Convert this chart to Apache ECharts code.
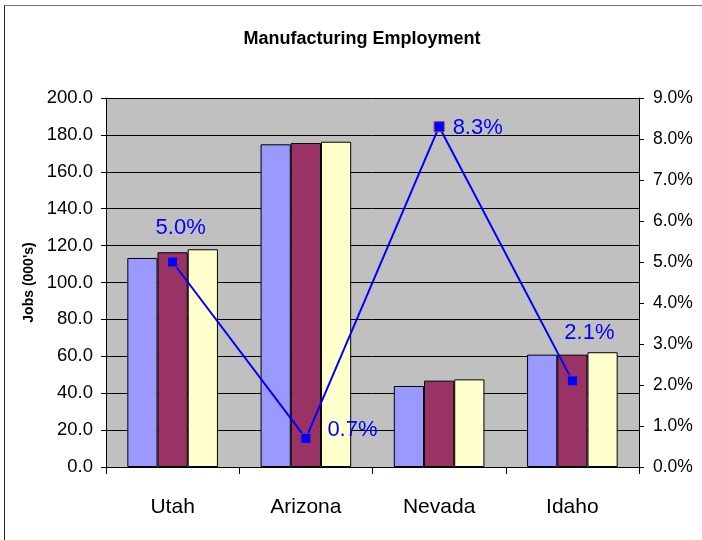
<!DOCTYPE html>
<html>
<head>
<meta charset="utf-8">
<script src="https://cdn.jsdelivr.net/npm/echarts@6/dist/echarts.min.js"></script>
<style>
  html, body { margin: 0; padding: 0; background: #fff; }
  #wrap { position: relative; width: 702px; height: 540px; }
  #chart { position: absolute; left: 0; top: 0; width: 702px; height: 540px; }
  #frame { position: absolute; left: 4px; top: 5px; right: 0; bottom: 0;
           border-left: 1px solid #222; border-top: 1px solid #777; pointer-events: none; }
</style>
</head>
<body>
<div id="wrap">
  <div id="chart"></div>
  <div id="frame"></div>
</div>
<script>
// Manufacturing jobs (thousands) by state, three periods, plus growth rate
const states = ['Utah', 'Arizona', 'Nevada', 'Idaho'];
const jobsA = [113.3, 174.9, 43.9, 60.9];
const jobsB = [116.4, 175.6, 46.8, 60.9];
const jobsC = [118.0, 176.3, 47.5, 62.2];
const growthPct = [5.0, 0.7, 8.3, 2.1];

// per-point label placement for the growth line
const growthLabelPos = [
  { position: 'top', offset: [8, -13] },
  { position: 'right', offset: [11, -8] },
  { position: 'right', offset: [3, 1] },
  { position: 'top', offset: [17, -26] }
];

const chart = echarts.init(document.getElementById('chart'));
const font = 'Liberation Sans, Arial, sans-serif';

function barSeries(data, color) {
  return {
    type: 'bar',
    data: data,
    yAxisIndex: 0,
    barGap: '0%',
    barCategoryGap: '32%',
    itemStyle: { color: color, borderColor: '#000', borderWidth: 1 },
    z: 2
  };
}

chart.setOption({
  animation: false,
  textStyle: { fontFamily: font },
  title: {
    text: 'Manufacturing Employment',
    left: 357, top: 25, textAlign: 'center',
    textStyle: { fontFamily: font, fontSize: 18, fontWeight: 'bold', color: '#000' }
  },
  grid: { left: 106, right: 63, top: 98, bottom: 73, show: true, backgroundColor: '#C0C0C0', borderWidth: 0 },
  xAxis: {
    type: 'category',
    data: states,
    axisLine: { lineStyle: { color: '#000', width: 1 } },
    axisTick: { show: true, length: 7, lineStyle: { color: '#000' } },
    axisLabel: { fontFamily: font, fontSize: 21, color: '#000', margin: 30 }
  },
  yAxis: [
    {
      type: 'value', min: 0, max: 200, interval: 20,
      name: "Jobs (000's)", nameLocation: 'middle', nameGap: 68, nameRotate: 90,
      nameTextStyle: { fontFamily: font, fontSize: 14, fontWeight: 'bold', color: '#000' },
      axisLine: { show: true, lineStyle: { color: '#000' } },
      axisTick: { show: true, length: 5, lineStyle: { color: '#000' } },
      axisLabel: { fontFamily: font, fontSize: 18.5, color: '#000', margin: 13,
                   formatter: v => v.toFixed(1) },
      splitLine: { show: true, lineStyle: { color: '#000', width: 1 } }
    },
    {
      type: 'value', min: 0, max: 9, interval: 1, position: 'right',
      axisLine: { show: true, lineStyle: { color: '#000' } },
      axisTick: { show: true, length: 5, lineStyle: { color: '#000' } },
      axisLabel: { fontFamily: font, fontSize: 17.5, color: '#000', margin: 14,
                   formatter: v => v.toFixed(1) + '%' },
      splitLine: { show: false }
    }
  ],
  series: [
    barSeries(jobsA, '#9999FF'),
    barSeries(jobsB, '#993366'),
    barSeries(jobsC, '#FFFFCC'),
    {
      type: 'line',
      yAxisIndex: 1,
      data: growthPct.map((v, i) => ({
        value: v,
        label: Object.assign({ show: true }, growthLabelPos[i])
      })),
      lineStyle: { color: '#0000FF', width: 2 },
      symbol: 'rect', symbolSize: 10,
      itemStyle: { color: '#0000FF', borderColor: '#993366', borderWidth: 1 },
      label: {
        show: true, fontFamily: font, fontSize: 22, color: '#0000FF',
        formatter: p => p.value.toFixed(1) + '%'
      },
      z: 5
    }
  ]
});
</script>
</body>
</html>
